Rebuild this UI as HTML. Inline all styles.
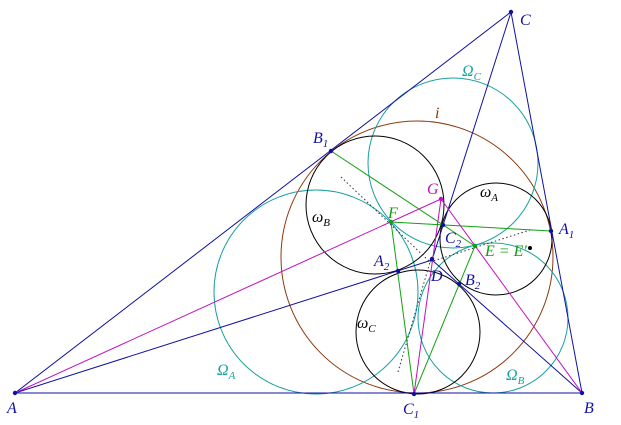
<!DOCTYPE html>
<html><head><meta charset="utf-8"><style>html,body{margin:0;padding:0;background:#fff}svg{display:block}</style></head>
<body>
<svg width="621" height="425" viewBox="0 0 621 425" xmlns="http://www.w3.org/2000/svg" font-family="Liberation Serif, serif" font-style="italic">
<g fill="none" stroke-width="1">
<circle cx="417" cy="257" r="136" stroke="#8B3A0F"/>
<circle cx="316" cy="292" r="102" stroke="#1aa0a0"/>
<circle cx="453" cy="163" r="85" stroke="#1aa0a0"/>
<circle cx="493" cy="318" r="75" stroke="#1aa0a0"/>
<circle cx="375" cy="205" r="69" stroke="#000"/>
<circle cx="496" cy="239" r="56" stroke="#000"/>
<circle cx="418" cy="332" r="62" stroke="#000"/>
<polygon points="15,393 582,393 511,12" stroke="#1010a0"/>
<line x1="511" y1="12" x2="432" y2="260" stroke="#1010a0"/>
<line x1="15" y1="393" x2="432" y2="260" stroke="#1010a0"/>
<line x1="582" y1="393" x2="432" y2="260" stroke="#1010a0"/>
<line x1="331" y1="151" x2="475" y2="246" stroke="#10a010"/>
<line x1="391" y1="222" x2="551" y2="231" stroke="#10a010"/>
<line x1="391" y1="222" x2="414" y2="394" stroke="#10a010"/>
<line x1="475" y1="246" x2="414" y2="394" stroke="#10a010"/>
<line x1="15" y1="393" x2="441" y2="199" stroke="#c010c0"/>
<line x1="582" y1="393" x2="441" y2="199" stroke="#c010c0"/>
<line x1="414" y1="394" x2="441" y2="199" stroke="#c010c0"/>
<g stroke="#333" stroke-dasharray="1.5,2.5">
<line x1="341" y1="177" x2="430" y2="262"/>
<line x1="398" y1="372" x2="430" y2="262"/>
<line x1="430" y1="262" x2="530" y2="230"/>
</g>
</g>
<g fill="#1010a0">
<circle cx="15" cy="393" r="2.2"/><circle cx="582" cy="393" r="2.2"/><circle cx="511" cy="12" r="2.2"/>
<circle cx="414" cy="394" r="2.2"/><circle cx="331" cy="151" r="2.2"/><circle cx="551" cy="231" r="2.2"/>
<circle cx="443" cy="225" r="2.2"/><circle cx="398" cy="271" r="2.2"/><circle cx="432" cy="259" r="2.2"/><circle cx="459" cy="284" r="2.2"/>
</g>
<circle cx="441" cy="199" r="2.2" fill="#c010c0"/>
<circle cx="391" cy="222" r="2.2" fill="#10a010"/><circle cx="475" cy="246" r="2.2" fill="#10a010"/>
<circle cx="530" cy="248" r="2" fill="#000"/>
<g font-size="16" fill="#1010a0">
<text x="7" y="413">A</text><text x="584" y="413">B</text><text x="520" y="25">C</text>
<text x="403" y="414">C<tspan font-size="11" dy="4">1</tspan></text>
<text x="313" y="143">B<tspan font-size="11" dy="4">1</tspan></text>
<text x="559" y="234">A<tspan font-size="11" dy="4">1</tspan></text>
<text x="445" y="243">C<tspan font-size="11" dy="4">2</tspan></text>
<text x="374" y="266">A<tspan font-size="11" dy="4">2</tspan></text>
<text x="431" y="281">D</text>
<text x="465" y="285">B<tspan font-size="11" dy="4">2</tspan></text>
</g>
<text x="427" y="194" font-size="16" fill="#c010c0">G</text>
<text x="388" y="218" font-size="16" fill="#10a010">F</text>
<text x="485" y="256" font-size="16" fill="#10a010">E = E′</text>
<g font-size="16" fill="#1aa0a0">
<text x="462" y="76">Ω<tspan font-size="11" dy="4">C</tspan></text>
<text x="217" y="375">Ω<tspan font-size="11" dy="4">A</tspan></text>
<text x="506" y="380">Ω<tspan font-size="11" dy="4">B</tspan></text>
</g>
<text x="435" y="118" font-size="16" fill="#8B3A0F">i</text>
<g font-size="16" fill="#000">
<text x="312" y="222">ω<tspan font-size="11" dy="4">B</tspan></text>
<text x="480" y="197">ω<tspan font-size="11" dy="4">A</tspan></text>
<text x="357" y="328">ω<tspan font-size="11" dy="4">C</tspan></text>
</g>
</svg>
</body></html>
